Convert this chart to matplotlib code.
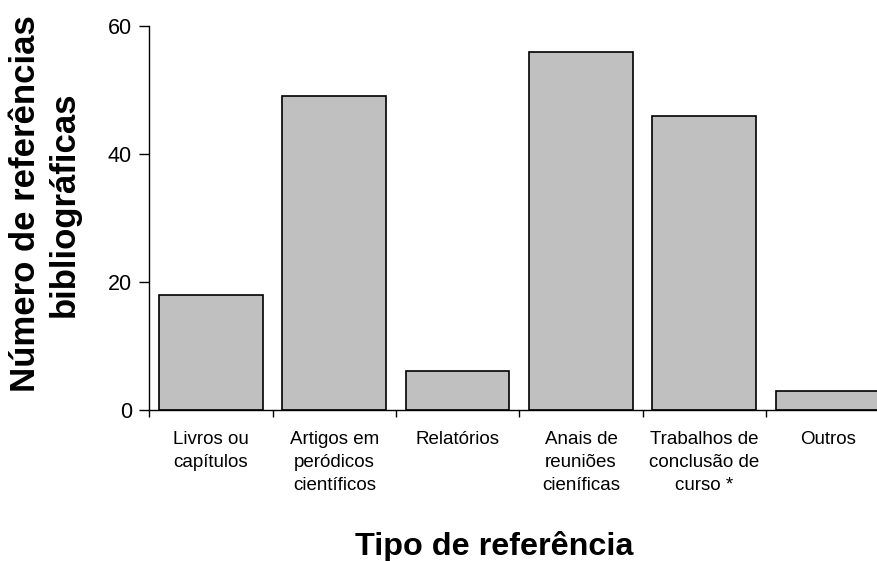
import numpy as np
import matplotlib
matplotlib.use("Agg")
import matplotlib.pyplot as plt

categorias = ["Livros ou\ncapítulos", "Artigos em\nperódicos\ncientíficos", "Relatórios",
              "Anais de\nreuniões\ncieníficas", "Trabalhos de\nconclusão de\ncurso *", "Outros"]
valores = [18, 49, 6, 56, 46, 3]
yticks = [0, 20, 40, 60]

plt.rcParams['font.family'] = ['Liberation Sans', 'DejaVu Sans']

fig = plt.figure(figsize=(8.78, 5.61), dpi=100)
# axes run past the right edge like in the original (last bar is cut off)
ax = fig.add_axes([149.3 / 878, 151.3 / 561, 740 / 878, 383.7 / 561])

x = np.arange(len(valores))
ax.bar(x, valores, width=0.84, color="#c0c0c0", edgecolor="black", linewidth=1.2, zorder=2)

ax.set_xlim(-0.5, len(valores) - 0.5)
ax.set_ylim(0, 60)
ax.set_yticks(yticks)
ax.tick_params(axis="y", length=7, width=1, pad=5.5, labelsize=15.5)

ax.set_xticks(x)
ax.set_xticklabels(categorias, fontsize=13.5, linespacing=1.45, va="top")
ax.tick_params(axis="x", which="major", length=0, pad=15.5)
ax.set_xticks(np.arange(len(valores) + 1) - 0.5, minor=True)
ax.tick_params(axis="x", which="minor", length=5, width=1)

for s in ["top", "right"]:
    ax.spines[s].set_visible(False)
ax.spines["left"].set_linewidth(1)
ax.spines["bottom"].set_linewidth(1)

fig.text(45 / 878, 1 - 204 / 561, "Número de referências\nbibliográficas", rotation=90,
         ha="center", va="center", fontsize=25, fontweight="bold", linespacing=1.2)
fig.text(494.5 / 878, 1 - 546 / 561, "Tipo de referência", ha="center", va="center",
         fontsize=23.3, fontweight="bold")

fig.savefig("out.png", dpi=100)
